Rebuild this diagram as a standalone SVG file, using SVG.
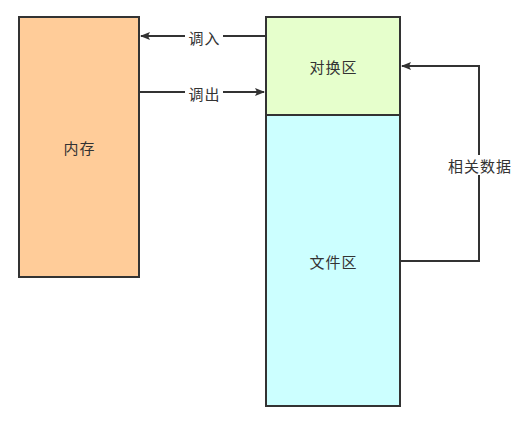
<svg xmlns="http://www.w3.org/2000/svg" width="528" height="426" viewBox="0 0 528 426">
<defs>
<style>
.box{stroke:#333;stroke-width:2}
.t{font-family:"Noto Sans CJK SC","Liberation Sans",sans-serif;font-size:15px;letter-spacing:1px;fill:#333;text-anchor:middle;dominant-baseline:central}
.c{fill:none;stroke:#333;stroke-width:2}
.lbl{fill:#fff}
</style>
<marker id="ah" markerWidth="10" markerHeight="8" refX="9" refY="4" orient="auto" markerUnits="userSpaceOnUse">
<path d="M0,0 L10,4 L0,8 L2,4 Z" fill="#333"/>
</marker>
</defs>
<rect width="528" height="426" fill="#fff"/>
<g id="node-memory">
<rect class="box" x="19" y="17" width="120" height="260" fill="#ffcc99"/>
<text class="t" x="79.5" y="147">内存</text>
</g>
<g id="node-swap">
<rect class="box" x="266" y="17" width="134" height="98" fill="#e6ffcc"/>
<text class="t" x="333.5" y="66">对换区</text>
</g>
<g id="node-file">
<rect class="box" x="266" y="115" width="134" height="291" fill="#ccffff"/>
<text class="t" x="333.5" y="261">文件区</text>
</g>
<g id="connectors">
<path class="c" d="M266,36 L141,36" marker-end="url(#ah)"/>
<path class="c" d="M139,92 L264,92" marker-end="url(#ah)"/>
<path class="c" d="M400,261 L479,261 L479,66 L402,66" marker-end="url(#ah)"/>
<rect class="lbl" x="185" y="28" width="38" height="17"/>
<text class="t" x="204.5" y="37">调入</text>
<rect class="lbl" x="185" y="84" width="38" height="17"/>
<text class="t" x="204.5" y="93">调出</text>
<rect class="lbl" x="446" y="155" width="68" height="20"/>
<text class="t" x="480" y="165">相关数据</text>
</g>
</svg>
